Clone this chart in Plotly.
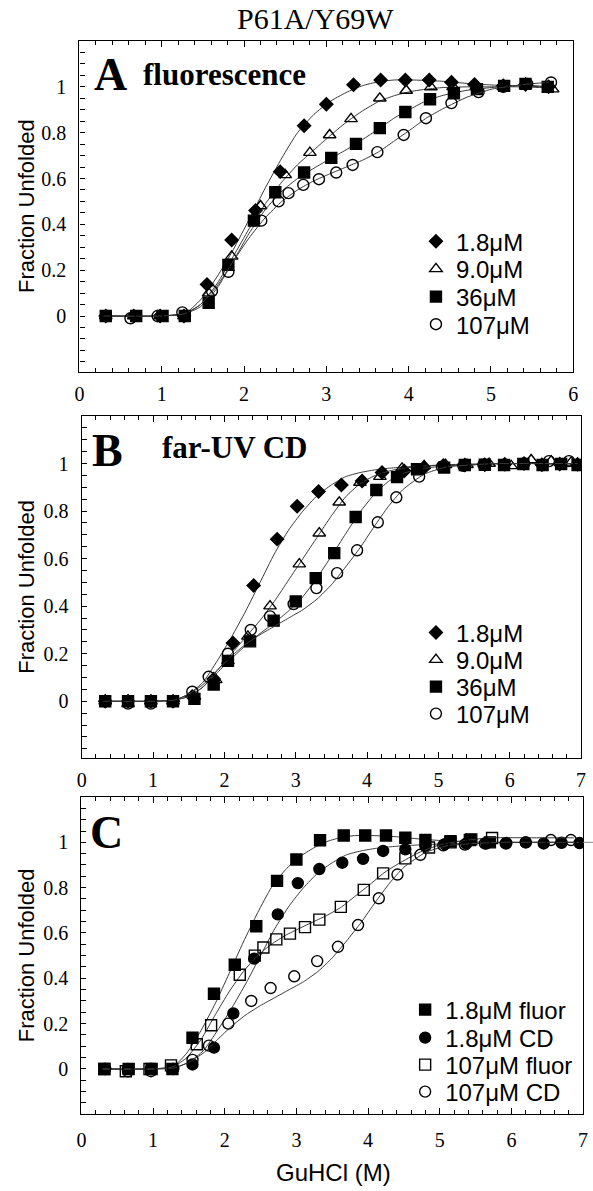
import plotly.graph_objects as go

W, H = 593, 1191

# ---------------- data ----------------
# Panel A: fluorescence (also used in panel C)
FL_X_18 = [0.32, 0.66, 0.98, 1.27, 1.55, 1.85, 2.14, 2.44, 2.73, 3.0, 3.33, 3.66, 3.96, 4.25, 4.52, 4.8, 5.15, 5.42, 5.7]
FL_Y_18 = [0.0, 0.0, 0.0, 0.0, 0.138, 0.332, 0.46, 0.63, 0.83, 0.924, 1.009, 1.03, 1.03, 1.03, 1.02, 1.01, 1.005, 1.01, 1.0]
FL_X_90 = [0.32, 0.66, 0.98, 1.27, 1.57, 1.85, 2.2, 2.5, 2.8, 3.04, 3.3, 3.65, 3.97, 4.27, 4.54, 4.82, 5.15, 5.42, 5.75]
FL_Y_90 = [0.0, 0.0, 0.0, 0.0, 0.10, 0.26, 0.48, 0.616, 0.713, 0.79, 0.86, 0.95, 0.984, 0.999, 1.0, 1.0, 1.0, 1.005, 0.99]
FL_X_36 = [0.32, 0.69, 1.01, 1.28, 1.57, 1.81, 2.12, 2.38, 2.73, 3.06, 3.36, 3.65, 3.96, 4.26, 4.55, 4.83, 5.16, 5.42, 5.69]
FL_Y_36 = [0.0, 0.0, 0.0, 0.0, 0.058, 0.223, 0.416, 0.54, 0.626, 0.69, 0.751, 0.82, 0.89, 0.946, 0.972, 0.99, 1.004, 1.013, 1.0]
FL_X_107 = [0.32, 0.62, 0.95, 1.25, 1.61, 1.81, 2.21, 2.42, 2.54, 2.72, 2.91, 3.12, 3.32, 3.62, 3.94, 4.21, 4.52, 4.85, 5.15, 5.44, 5.73]
FL_Y_107 = [0.0, -0.01, 0.0, 0.016, 0.109, 0.193, 0.416, 0.5, 0.536, 0.572, 0.597, 0.626, 0.659, 0.715, 0.79, 0.863, 0.929, 0.977, 1.0, 1.013, 1.019]

# Panel B: far-UV CD (also used in panel C)
CD_X_18 = [0.33, 0.65, 0.97, 1.28, 1.55, 1.85, 2.12, 2.41, 2.74, 3.02, 3.32, 3.64, 3.93, 4.21, 4.52, 4.8, 5.07, 5.37, 5.65, 5.93, 6.2, 6.45, 6.7, 6.95]
CD_Y_18 = [0.0, 0.0, 0.0, 0.0, 0.02, 0.094, 0.245, 0.487, 0.682, 0.82, 0.882, 0.91, 0.927, 0.962, 0.969, 0.983, 0.992, 0.994, 0.995, 0.997, 1.0, 0.995, 0.998, 0.997]
CD_X_90 = [0.33, 0.65, 0.97, 1.28, 1.58, 1.88, 2.05, 2.33, 2.64, 3.05, 3.33, 3.61, 3.9, 4.18, 4.49, 4.8, 5.1, 5.4, 5.71, 6.02, 6.3, 6.58, 6.86]
CD_Y_90 = [0.0, -0.01, 0.0, 0.0, 0.02, 0.09, 0.17, 0.273, 0.4, 0.577, 0.707, 0.837, 0.92, 0.945, 0.98, 0.99, 0.995, 0.995, 1.0, 0.99, 1.015, 1.01, 1.005]
CD_X_36 = [0.33, 0.65, 0.97, 1.28, 1.58, 1.85, 2.05, 2.36, 2.69, 3.0, 3.28, 3.54, 3.84, 4.13, 4.42, 4.7, 5.08, 5.37, 5.65, 5.92, 6.19, 6.46, 6.72, 6.95]
CD_Y_36 = [0.0, 0.0, 0.0, 0.0, 0.01, 0.07, 0.17, 0.252, 0.339, 0.42, 0.518, 0.623, 0.775, 0.889, 0.943, 0.976, 0.983, 0.994, 0.995, 0.994, 0.998, 0.994, 0.998, 0.994]
CD_X_107 = [0.33, 0.65, 0.97, 1.28, 1.55, 1.78, 2.05, 2.37, 2.64, 2.97, 3.29, 3.58, 3.86, 4.15, 4.41, 4.73, 5.05, 5.35, 5.63, 5.92, 6.2, 6.55, 6.83]
CD_Y_107 = [0.0, -0.01, -0.01, 0.0, 0.04, 0.103, 0.2, 0.3, 0.357, 0.409, 0.476, 0.539, 0.635, 0.753, 0.858, 0.945, 0.987, 0.99, 0.995, 0.995, 1.0, 1.01, 1.01]

# Fitted curves
FIT_X_FL = [0.29, 0.98, 1.28, 1.47, 1.67, 1.87, 2.06, 2.26, 2.46, 2.65, 2.85, 3.04, 3.24, 3.44, 3.63, 3.83, 4.03, 4.22, 4.42, 4.71, 5.01, 5.4, 5.7, 6.28, 6.87]
FIT_FL_18 = [0, 0, 0.01, 0.07, 0.17, 0.29, 0.42, 0.56, 0.69, 0.8, 0.88, 0.935, 0.975, 1.005, 1.022, 1.03, 1.03, 1.028, 1.024, 1.015, 1.008, 1.003, 1.0, 1.0, 1.0]
FIT_FL_90 = [0, 0, 0.01, 0.05, 0.14, 0.26, 0.38, 0.49, 0.585, 0.66, 0.725, 0.785, 0.845, 0.895, 0.935, 0.962, 0.98, 0.99, 0.997, 1.0, 1.0, 1.0, 0.995, 0.99, 0.99]
FIT_FL_36 = [0, 0, 0.01, 0.04, 0.12, 0.24, 0.36, 0.465, 0.545, 0.6, 0.645, 0.685, 0.725, 0.77, 0.815, 0.865, 0.905, 0.94, 0.963, 0.985, 0.997, 1.008, 1.0, 1.0, 1.0]
FIT_FL_107 = [0, 0, 0.01, 0.05, 0.13, 0.24, 0.34, 0.43, 0.5, 0.55, 0.59, 0.62, 0.65, 0.68, 0.715, 0.765, 0.815, 0.865, 0.905, 0.955, 0.99, 1.01, 1.02, 1.02, 1.02]

FIT_X_CD = [0.3, 1.0, 1.3, 1.5, 1.7, 1.9, 2.1, 2.3, 2.5, 2.7, 2.9, 3.1, 3.3, 3.5, 3.7, 3.9, 4.1, 4.3, 4.5, 4.8, 5.1, 5.5, 5.8, 6.4, 6.95]
FIT_CD_18 = [0, 0, 0.005, 0.03, 0.08, 0.17, 0.27, 0.38, 0.5, 0.62, 0.72, 0.8, 0.865, 0.91, 0.945, 0.962, 0.973, 0.98, 0.985, 0.99, 0.993, 0.996, 0.998, 1.0, 1.0]
FIT_CD_90 = [0, 0, 0.005, 0.02, 0.06, 0.13, 0.2, 0.27, 0.34, 0.42, 0.51, 0.6, 0.69, 0.78, 0.86, 0.915, 0.948, 0.968, 0.98, 0.99, 0.995, 0.998, 1.0, 1.0, 1.0]
FIT_CD_36 = [0, 0, 0.005, 0.02, 0.06, 0.12, 0.18, 0.235, 0.285, 0.33, 0.38, 0.44, 0.52, 0.61, 0.705, 0.795, 0.87, 0.925, 0.958, 0.98, 0.99, 0.995, 1.0, 1.0, 1.0]
FIT_CD_107 = [0, 0, 0.005, 0.03, 0.07, 0.13, 0.19, 0.24, 0.28, 0.315, 0.35, 0.385, 0.43, 0.49, 0.565, 0.645, 0.735, 0.82, 0.89, 0.955, 0.985, 0.995, 1.0, 1.0, 1.0]

Y_TICKS = [0, 0.2, 0.4, 0.6, 0.8, 1]
Y_TICK_TEXT = ["0", "0.2", "0.4", "0.6", "0.8", "1"]

# ---------------- helpers ----------------
def px(x):
    return x / W

def py(y):
    return 1 - y / H

SERIF = "Liberation Serif, Times New Roman, serif"
SANS = "Liberation Sans, Arial, sans-serif"
FIT_COLOR = "#3a3a3a"

fig = go.Figure()

legend_counter = [0]
legend_layouts = {}

def add_series(xs, ys, fx, fy, xa, ya, symbol, size, name, leg_x, leg_y, xmax):
    fxs = [a for a in fx if a <= xmax + 0.01]
    fys = fy[:len(fxs)]
    fig.add_trace(go.Scatter(x=fxs, y=fys, mode="lines", xaxis=xa, yaxis=ya,
                             line=dict(color=FIT_COLOR, width=1, shape="spline", smoothing=0.5),
                             showlegend=False, hoverinfo="skip"))
    legend_counter[0] += 1
    lname = "legend" if legend_counter[0] == 1 else "legend%d" % legend_counter[0]
    fig.add_trace(go.Scatter(x=xs, y=ys, mode="markers", xaxis=xa, yaxis=ya, name=name,
                             marker=dict(symbol=symbol, size=size, color="black",
                                         line=dict(color="black", width=1.4)),
                             legend=lname, showlegend=True))
    legend_layouts[lname] = dict(x=px(leg_x - 20), y=py(leg_y), xanchor="left", yanchor="middle",
                                 bgcolor="rgba(0,0,0,0)", borderwidth=0,
                                 font=dict(family=SANS, size=24, color="black"))

# Panel A
A_ROWS = [241.7, 269.3, 297.0, 324.6]
add_series(FL_X_18, FL_Y_18, FIT_X_FL, FIT_FL_18, "x", "y", "diamond", 10, "1.8μM", 438, A_ROWS[0], 5.75)
add_series(FL_X_90, FL_Y_90, FIT_X_FL, FIT_FL_90, "x", "y", "triangle-up-open", 11, "9.0μM", 438, A_ROWS[1], 5.75)
add_series(FL_X_36, FL_Y_36, FIT_X_FL, FIT_FL_36, "x", "y", "square", 11, "36μM", 438, A_ROWS[2], 5.75)
add_series(FL_X_107, FL_Y_107, FIT_X_FL, FIT_FL_107, "x", "y", "circle-open", 11, "107μM", 438, A_ROWS[3], 5.75)

# Panel B
B_ROWS = [633, 660, 687, 714]
add_series(CD_X_18, CD_Y_18, FIT_X_CD, FIT_CD_18, "x2", "y2", "diamond", 10, "1.8μM", 438, B_ROWS[0], 7)
add_series(CD_X_90, CD_Y_90, FIT_X_CD, FIT_CD_90, "x2", "y2", "triangle-up-open", 11, "9.0μM", 438, B_ROWS[1], 7)
add_series(CD_X_36, CD_Y_36, FIT_X_CD, FIT_CD_36, "x2", "y2", "square", 11, "36μM", 438, B_ROWS[2], 7)
add_series(CD_X_107, CD_Y_107, FIT_X_CD, FIT_CD_107, "x2", "y2", "circle-open", 11, "107μM", 438, B_ROWS[3], 7)

# Panel C
C_ROWS = [1010, 1038, 1065, 1092]
add_series(FL_X_18, FL_Y_18, FIT_X_FL, FIT_FL_18, "x3", "y3", "square", 11, "1.8μM fluor", 427, C_ROWS[0], 7)
add_series(CD_X_18, CD_Y_18, FIT_X_CD, FIT_CD_18, "x3", "y3", "circle", 11, "1.8μM CD", 427, C_ROWS[1], 7)
add_series(FL_X_107, FL_Y_107, FIT_X_FL, FIT_FL_107, "x3", "y3", "square-open", 11, "107μM fluor", 427, C_ROWS[2], 7)
add_series(CD_X_107, CD_Y_107, FIT_X_CD, FIT_CD_107, "x3", "y3", "circle-open", 11, "107μM CD", 427, C_ROWS[3], 7)

# ---------------- axes ----------------
def xaxis(domain, rng, standoff):
    return dict(domain=[px(domain[0]), px(domain[1])], range=rng,
                showline=True, linecolor="black", linewidth=1.2, mirror="ticks",
                ticks="inside", ticklen=6, tickwidth=1, tickcolor="black",
                tick0=0, dtick=1, showgrid=False, zeroline=False,
                minor=dict(ticks="inside", ticklen=4, tickwidth=1, tickcolor="black", dtick=0.2, tick0=0, showgrid=False),
                tickfont=dict(family=SERIF, size=20, color="black"),
                ticklabelstandoff=standoff, fixedrange=True)

def yaxis(domain, rng):
    return dict(domain=[py(domain[1]), py(domain[0])], range=rng,
                showline=True, linecolor="black", linewidth=1.2, mirror=True,
                ticks="inside", ticklen=5, tickwidth=1, tickcolor="black",
                tickvals=Y_TICKS, ticktext=Y_TICK_TEXT, showgrid=False, zeroline=False,
                minor=dict(ticks="inside", ticklen=5, tickwidth=1, tickcolor="black", dtick=0.05, tick0=0, showgrid=False),
                tickfont=dict(family=SERIF, size=20, color="black"),
                ticklabelstandoff=8, fixedrange=True)

A_BOX = dict(x=(75.7, 578), y=(41, 371.7))
B_BOX = dict(x=(78, 586), y=(416, 758.3))
C_BOX = dict(x=(77.7, 588), y=(797, 1114.3))

xa = xaxis(A_BOX["x"], [0, 6], 4); xa["anchor"] = "y"
xb = xaxis(B_BOX["x"], [0, 7], 4); xb["anchor"] = "y2"
xc = xaxis(C_BOX["x"], [0, 7], 8); xc["anchor"] = "y3"
ya = yaxis(A_BOX["y"], [-0.243, 1.2]); ya["anchor"] = "x"
yb = yaxis(B_BOX["y"], [-0.24, 1.2]); yb["anchor"] = "x2"
yc = yaxis(C_BOX["y"], [-0.2, 1.2]); yc["anchor"] = "x3"

annotations = [
    dict(text="P61A/Y69W", x=px(316), y=py(18), xref="paper", yref="paper", showarrow=False,
         xanchor="center", yanchor="middle", font=dict(family=SERIF, size=30, color="black")),
    dict(text="<b>A</b>", x=px(88), y=py(74), xref="paper", yref="paper", showarrow=False,
         xanchor="left", yanchor="middle", font=dict(family=SERIF, size=46, color="black")),
    dict(text="<b>fluorescence</b>", x=px(138), y=py(75), xref="paper", yref="paper", showarrow=False,
         xanchor="left", yanchor="middle", font=dict(family=SERIF, size=31, color="black")),
    dict(text="<b>B</b>", x=px(86), y=py(450), xref="paper", yref="paper", showarrow=False,
         xanchor="left", yanchor="middle", font=dict(family=SERIF, size=46, color="black")),
    dict(text="<b>far-UV CD</b>", x=px(158), y=py(447), xref="paper", yref="paper", showarrow=False,
         xanchor="left", yanchor="middle", font=dict(family=SERIF, size=31, color="black")),
    dict(text="<b>C</b>", x=px(84), y=py(832), xref="paper", yref="paper", showarrow=False,
         xanchor="left", yanchor="middle", font=dict(family=SERIF, size=46, color="black")),
    dict(text="GuHCl (M)", x=px(334), y=py(1172), xref="paper", yref="paper", showarrow=False,
         xanchor="center", yanchor="middle", font=dict(family=SANS, size=24, color="black")),
]
for cy in [(A_BOX["y"][0] + A_BOX["y"][1]) / 2, (B_BOX["y"][0] + B_BOX["y"][1]) / 2,
           (C_BOX["y"][0] + C_BOX["y"][1]) / 2]:
    annotations.append(dict(text="Fraction Unfolded", x=px(22), y=py(cy), xref="paper", yref="paper",
                            showarrow=False, textangle=-90, xanchor="center", yanchor="middle",
                            font=dict(family=SANS, size=22, color="black")))

layout = dict(width=W, height=H, margin=dict(l=0, r=0, t=0, b=0),
              paper_bgcolor="white", plot_bgcolor="white",
              xaxis=xa, xaxis2=xb, xaxis3=xc, yaxis=ya, yaxis2=yb, yaxis3=yc,
              annotations=annotations, showlegend=True,
              shapes=[dict(type="line", xref="x3 domain", yref="y3", x0=1.0, x1=1.02, y0=1, y1=1,
                           line=dict(color="#888", width=1))])
layout.update(legend_layouts)
fig.update_layout(**layout)

fig.write_html("out.html", config={"displayModeBar": False},
               post_script="document.body.style.margin='0';document.body.style.padding='0';document.body.style.overflow='hidden';")
